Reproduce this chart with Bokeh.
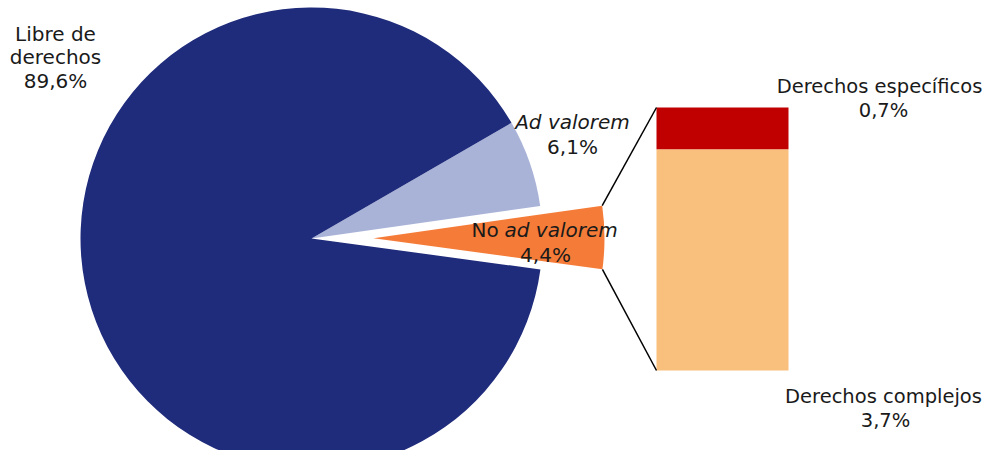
import numpy as np
from bokeh.plotting import figure
from bokeh.models import Range1d, ColumnDataSource
from bokeh.embed import file_html
from bokeh.resources import INLINE
from bokeh.core.properties import value

# ---- data ----
pie_labels = ["No ad valorem", "Ad valorem", "Libre de derechos"]
pie_values = [4.4, 6.1, 89.6]
pie_colors = ["#F57C38", "#A9B3D8", "#1F2B7B"]

bar_labels = ["Derechos complejos", "Derechos específicos"]
bar_values = [3.7, 0.7]
bar_colors = ["#F9BF7C", "#C00000"]

def pct(v):
    return f"{v:.1f}".replace(".", ",") + "%"

FONT = value("DejaVu Sans")
FS = "20px"

W, H = 987, 450
p = figure(width=W, height=H, x_range=Range1d(0, W), y_range=Range1d(16, 466),
           output_backend="svg", toolbar_location=None, min_border=0,
           x_axis_type=None, y_axis_type=None)
p.grid.visible = False
p.outline_line_color = None
p.background_fill_color = "white"

# ---- pie ----
cx, cy, R = 311, 228, 231
explode = 62
a0 = 0.2  # bisector of the exploded slice, degrees
total = sum(pie_values)
fr = [v / total for v in pie_values]
start0 = a0 - fr[0] * 180.0
starts, ends = [], []
acc = start0
for f in fr:
    starts.append(acc)
    acc += f * 360.0
    ends.append(acc)
xs, ys = [], []
for i in range(len(pie_values)):
    if i == 0:
        mid = np.radians((starts[i] + ends[i]) / 2)
        xs.append(cx + explode * np.cos(mid))
        ys.append(cy + explode * np.sin(mid))
    else:
        xs.append(cx)
        ys.append(cy)
src = ColumnDataSource(dict(x=xs, y=ys, s=starts, e=ends, c=pie_colors))
p.wedge(x="x", y="y", radius=R, start_angle="s", end_angle="e",
        start_angle_units="deg", end_angle_units="deg",
        fill_color="c", line_color=None, source=src)

# ---- stacked bar ----
bar_x0, bar_x1 = 656, 788
bar_bottom = 96
scale = 263 / sum(bar_values)
bottoms, tops = [], []
b = bar_bottom
for v in bar_values:
    bottoms.append(b)
    b += v * scale
    tops.append(b)
p.quad(left=[bar_x0] * len(bar_values), right=[bar_x1] * len(bar_values),
       bottom=bottoms, top=tops, fill_color=bar_colors, line_color=None)

# ---- connectors ----
ox, oy = xs[0], ys[0]
tx = ox + R * np.cos(np.radians(ends[0]))
ty = oy + R * np.sin(np.radians(ends[0]))
bx = ox + R * np.cos(np.radians(starts[0]))
by = oy + R * np.sin(np.radians(starts[0]))
p.segment(x0=[tx, bx], y0=[ty, by], x1=[bar_x0, bar_x0], y1=[tops[-1], bottoms[0]],
          line_color="black", line_width=1.5)

# ---- labels ----
def txt(x, y, s, style="normal", align="center", fs=FS):
    p.text(x=[x], y=[y], text=[s], text_font=FONT, text_font_size=fs,
           text_font_style=style, text_align=align, text_baseline="middle",
           text_color="#1a1a1a")

Y = lambda yi: 466 - yi
txt(55, Y(33), "Libre de")
txt(55, Y(56), "derechos")
txt(55, Y(80), pct(pie_values[2]))

txt(572, Y(121), pie_labels[1], style="italic")
txt(572, Y(146), pct(pie_values[1]))

txt(471, Y(229), "No", align="left")
txt(504, Y(229), "ad valorem", style="italic", align="left")
txt(545, Y(254), pct(pie_values[0]))

FS2 = "19.5px"
txt(879, Y(86), bar_labels[1], fs=FS2)
txt(883, Y(110), pct(bar_values[1]), fs=FS2)
txt(883, Y(396), bar_labels[0], fs=FS2)
txt(885, Y(420), pct(bar_values[0]), fs=FS2)

open("out.html", "w").write(file_html(p, INLINE))
